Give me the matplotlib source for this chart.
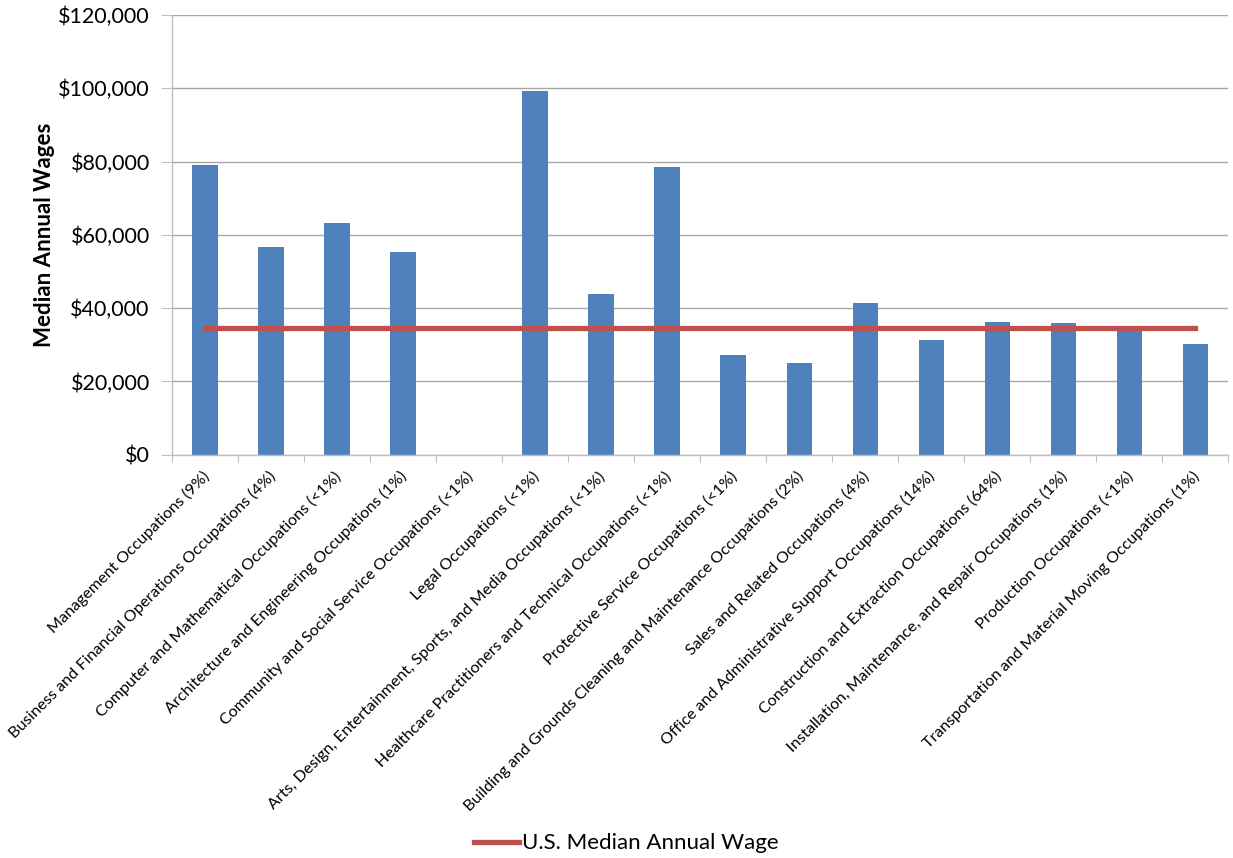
import matplotlib
matplotlib.use('Agg')
import matplotlib.pyplot as plt
import matplotlib.transforms as mtransforms
from matplotlib.ticker import FuncFormatter, MultipleLocator
import numpy as np

# data
occupations = [
    'Management Occupations (9%)',
    'Business and Financial Operations Occupations (4%)',
    'Computer and Mathematical Occupations (<1%)',
    'Architecture and Engineering Occupations (1%)',
    'Community and Social Service Occupations (<1%)',
    'Legal Occupations (<1%)',
    'Arts, Design, Entertainment, Sports, and Media Occupations (<1%)',
    'Healthcare Practitioners and Technical Occupations (<1%)',
    'Protective Service Occupations (<1%)',
    'Building and Grounds Cleaning and Maintenance Occupations (2%)',
    'Sales and Related Occupations (4%)',
    'Office and Administrative Support Occupations (14%)',
    'Construction and Extraction Occupations (64%)',
    'Installation, Maintenance, and Repair Occupations (1%)',
    'Production Occupations (<1%)',
    'Transportation and Material Moving Occupations (1%)',
]
median_wages = [79000, 56800, 63200, 55400, 0, 99400, 43900, 78600,
                27200, 25000, 41500, 31300, 36300, 35900, 34700, 30200]
us_median_wage = 34500

plt.rcParams['font.family'] = ['Lato', 'DejaVu Sans']

fig = plt.figure(figsize=(12.33, 8.58), dpi=100)
ax = fig.add_axes([0.1395, 0.470, 0.8565, 0.5125])

x = np.arange(len(occupations))
ax.bar(x, median_wages, width=0.38, color='#4F81BD', zorder=2)
ax.plot([x[0], x[-1]], [us_median_wage, us_median_wage], color='#C0504D',
        linewidth=3.8, zorder=3, label='U.S. Median Annual Wage')

ax.set_xlim(-0.5, len(occupations) - 0.5)
ax.set_ylim(0, 120000)
ax.yaxis.set_major_locator(MultipleLocator(20000))
ax.yaxis.set_major_formatter(FuncFormatter(lambda v, p: '${:,.0f}'.format(v)))
ax.grid(axis='y', color='#A6A6A6', linewidth=1.0, zorder=0)
ax.set_axisbelow(True)

for s in ['top', 'right']:
    ax.spines[s].set_visible(False)
for s in ['left', 'bottom']:
    ax.spines[s].set_color('#BFBFBF')
    ax.spines[s].set_linewidth(1.0)

ax.tick_params(axis='y', labelsize=15.5, length=8, color='#BFBFBF', pad=8)
ax.set_xticks(np.arange(-0.5, len(occupations) + 0.5, 1.0))
ax.set_xticklabels([])
ax.tick_params(axis='x', which='major', length=5, color='#BFBFBF')
ax.set_xticks(x, minor=True)
ax.set_xticklabels(occupations, minor=True, rotation=45, ha='right',
                   va='center', rotation_mode='anchor', fontsize=11.6)
ax.tick_params(axis='x', which='minor', length=0, pad=14)
offset = mtransforms.ScaledTranslation(0.02, 0, fig.dpi_scale_trans)
for lbl in ax.get_xticklabels(minor=True):
    lbl.set_transform(lbl.get_transform() + offset)

ax.set_ylabel('Median Annual Wages', fontsize=16, fontweight='bold', labelpad=2)

fig.legend(loc='center', bbox_to_anchor=(0.508, 0.017), frameon=False,
           fontsize=16, handlelength=2.0, handletextpad=0.15)

fig.savefig('out.png', dpi=100)
